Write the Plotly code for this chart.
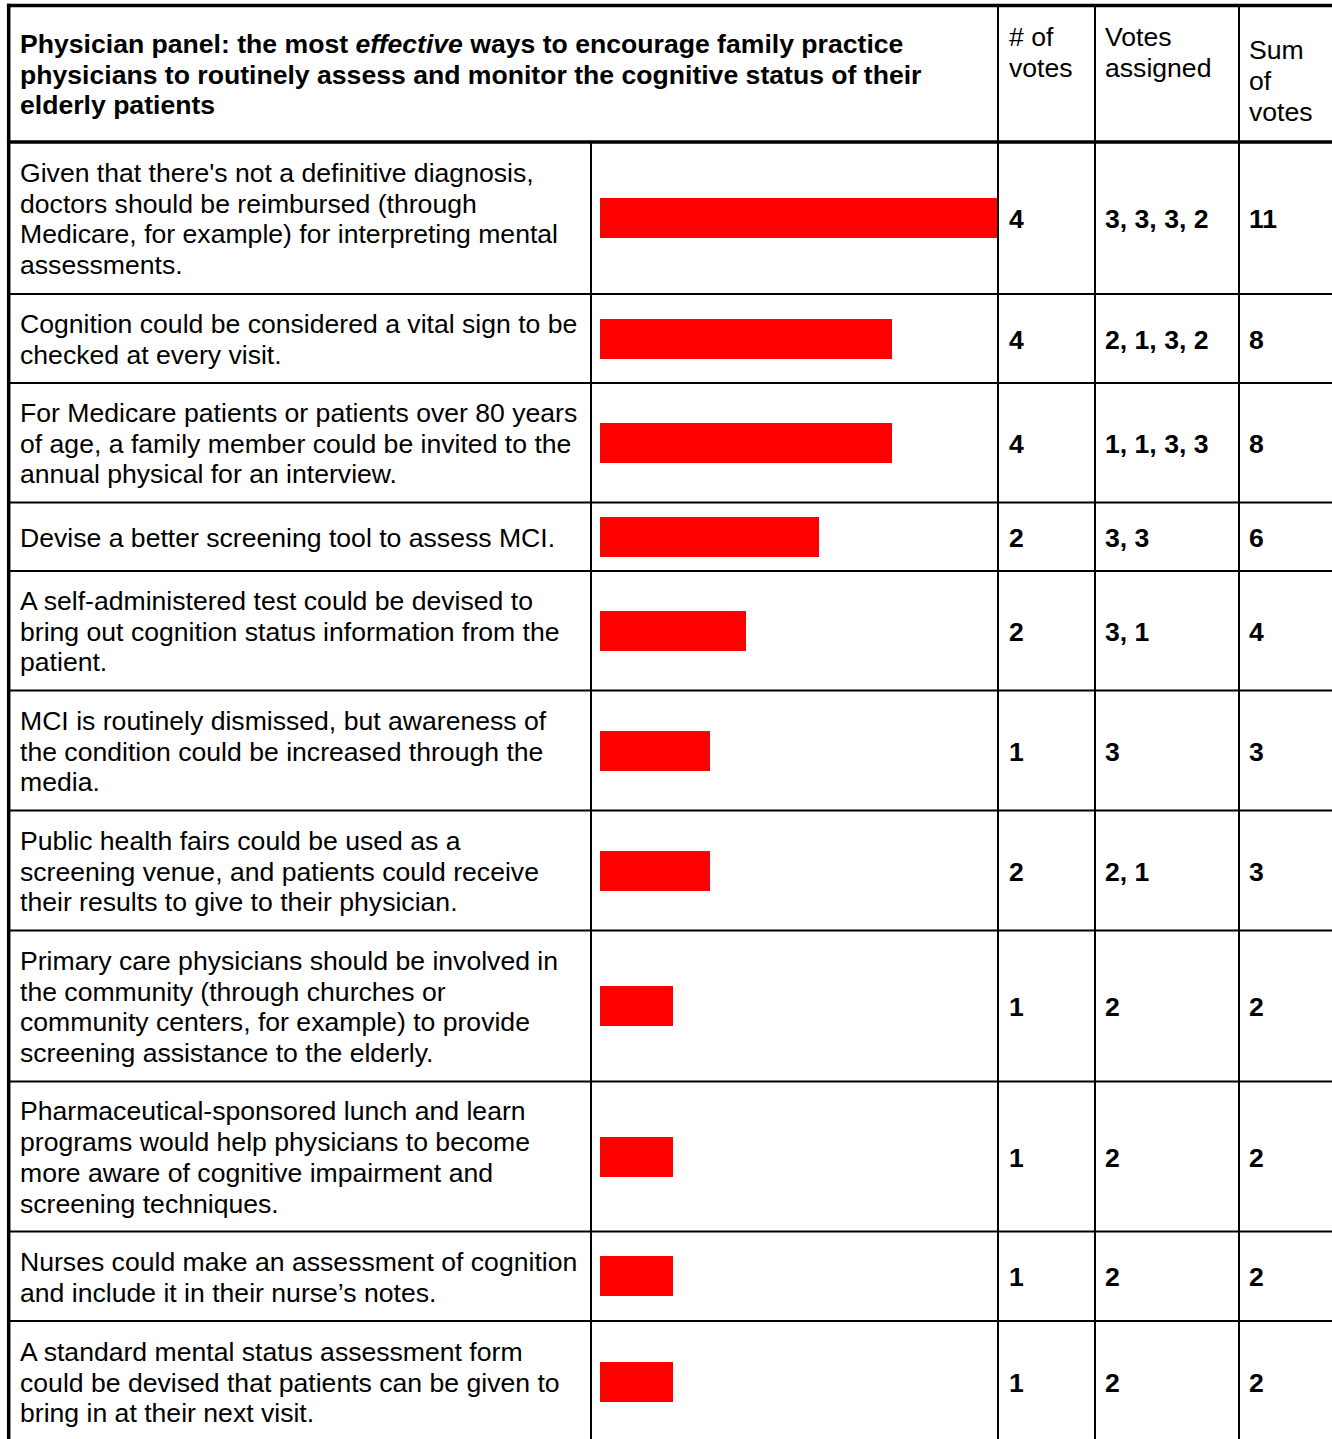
import plotly.graph_objects as go

# ---------------- data ----------------
title_lines = [
    "Physician panel: the most <i>effective</i> ways to encourage family practice",
    "physicians to routinely assess and monitor the cognitive status of their",
    "elderly patients",
]
col_headers = [["# of", "votes"], ["Votes", "assigned"], ["Sum", "of", "votes"]]

ideas = [
    ["Given that there's not a definitive diagnosis,",
     "doctors should be reimbursed (through",
     "Medicare, for example) for interpreting mental",
     "assessments."],
    ["Cognition could be considered a vital sign to be",
     "checked at every visit."],
    ["For Medicare patients or patients over 80 years",
     "of age, a family member could be invited to the",
     "annual physical for an interview."],
    ["Devise a better screening tool to assess MCI."],
    ["A self-administered test could be devised to",
     "bring out cognition status information from the",
     "patient."],
    ["MCI is routinely dismissed, but awareness of",
     "the condition could be increased through the",
     "media."],
    ["Public health fairs could be used as a",
     "screening venue, and patients could receive",
     "their results to give to their physician."],
    ["Primary care physicians should be involved in",
     "the community (through churches or",
     "community centers, for example) to provide",
     "screening assistance to the elderly."],
    ["Pharmaceutical-sponsored lunch and learn",
     "programs would help physicians to become",
     "more aware of cognitive impairment and",
     "screening techniques."],
    ["Nurses could make an assessment of cognition",
     "and include it in their nurse\u2019s notes."],
    ["A standard mental status assessment form",
     "could be devised that patients can be given to",
     "bring in at their next visit."],
]
num_votes = [4, 4, 4, 2, 2, 1, 2, 1, 1, 1, 1]
votes_assigned = ["3, 3, 3, 2", "2, 1, 3, 2", "1, 1, 3, 3", "3, 3", "3, 1",
                  "3", "2, 1", "2", "2", "2", "2"]
sum_votes = [11, 8, 8, 6, 4, 3, 3, 2, 2, 2, 2]

# ---------------- layout (pixels) ----------------
W, H = 1332, 1439
row_edges = [142, 294, 383, 502.5, 571, 690.5, 810.5, 930.5, 1081.5, 1231.5, 1321, 1442]
x_left, x_bar, x_c1, x_c2, x_c3, x_right = 8.7, 591, 998, 1095, 1239, 1332
top_y = 5.5
bar_x0, bar_x1 = 600, 998.5
px_per_vote = 36.5
FONT = "Liberation Sans, Arial, sans-serif"
FS = 26.6
LH = 30.67  # line spacing

def px(x):
    return x / W

row_centers = [(row_edges[i] + row_edges[i + 1]) / 2 for i in range(len(ideas))]

fig = go.Figure()
fig.add_trace(go.Bar(
    x=sum_votes, y=row_centers, orientation="h", base=0, width=40,
    marker=dict(color="#ff0000", line=dict(width=0)),
    hoverinfo="skip", showlegend=False,
))

shapes = []
def hline(y, w, x0=x_left, x1=x_right + 5):
    shapes.append(dict(type="line", xref="paper", yref="y", x0=px(x0), x1=px(x1),
                       y0=y, y1=y, line=dict(color="black", width=w)))
def vline(x, w, y0, y1):
    shapes.append(dict(type="line", xref="paper", yref="y", x0=px(x), x1=px(x),
                       y0=y0, y1=y1, line=dict(color="black", width=w)))

hline(top_y, 3.5, x0=x_left - 1.75)
hline(row_edges[0], 3.5, x0=x_left - 1.75)
for y in row_edges[1:-1]:
    hline(y, 2)
vline(x_left, 3.5, top_y - 1.75, H + 5)
vline(x_bar, 2, row_edges[0], H + 5)
for x in (x_c1, x_c2, x_c3):
    vline(x, 2, top_y, H + 5)

ann = []
def text_lines(x, yc, lines, bold=False):
    n = len(lines)
    for k, t in enumerate(lines):
        y = yc + (k - (n - 1) / 2) * LH
        ann.append(dict(xref="paper", yref="y", x=px(x), y=y,
                        text=("<b>%s</b>" % t) if bold else t,
                        showarrow=False, xanchor="left", yanchor="middle", align="left",
                        font=dict(family=FONT, size=FS, color="black")))

text_lines(17.5, 74.5, title_lines, bold=True)
text_lines(1006.5, 52.5, col_headers[0])
text_lines(1102.5, 52.5, col_headers[1])
text_lines(1246.5, 81, col_headers[2])

for i, c in enumerate(row_centers):
    text_lines(17.5, c + 1, ideas[i])
    text_lines(1006.5, c + 1, [str(num_votes[i])], bold=True)
    text_lines(1102.5, c + 1, [votes_assigned[i]], bold=True)
    text_lines(1246.5, c + 1, [str(sum_votes[i])], bold=True)

fig.update_layout(
    width=W, height=H, margin=dict(l=0, r=0, t=0, b=0),
    paper_bgcolor="white", plot_bgcolor="white",
    xaxis=dict(domain=[bar_x0 / W, bar_x1 / W],
               range=[0, (bar_x1 - bar_x0) / px_per_vote],
               visible=False, fixedrange=True),
    yaxis=dict(domain=[0, 1], range=[H, 0], visible=False, fixedrange=True),
    shapes=shapes, annotations=ann, bargap=0,
)
fig.write_html("out.html")
